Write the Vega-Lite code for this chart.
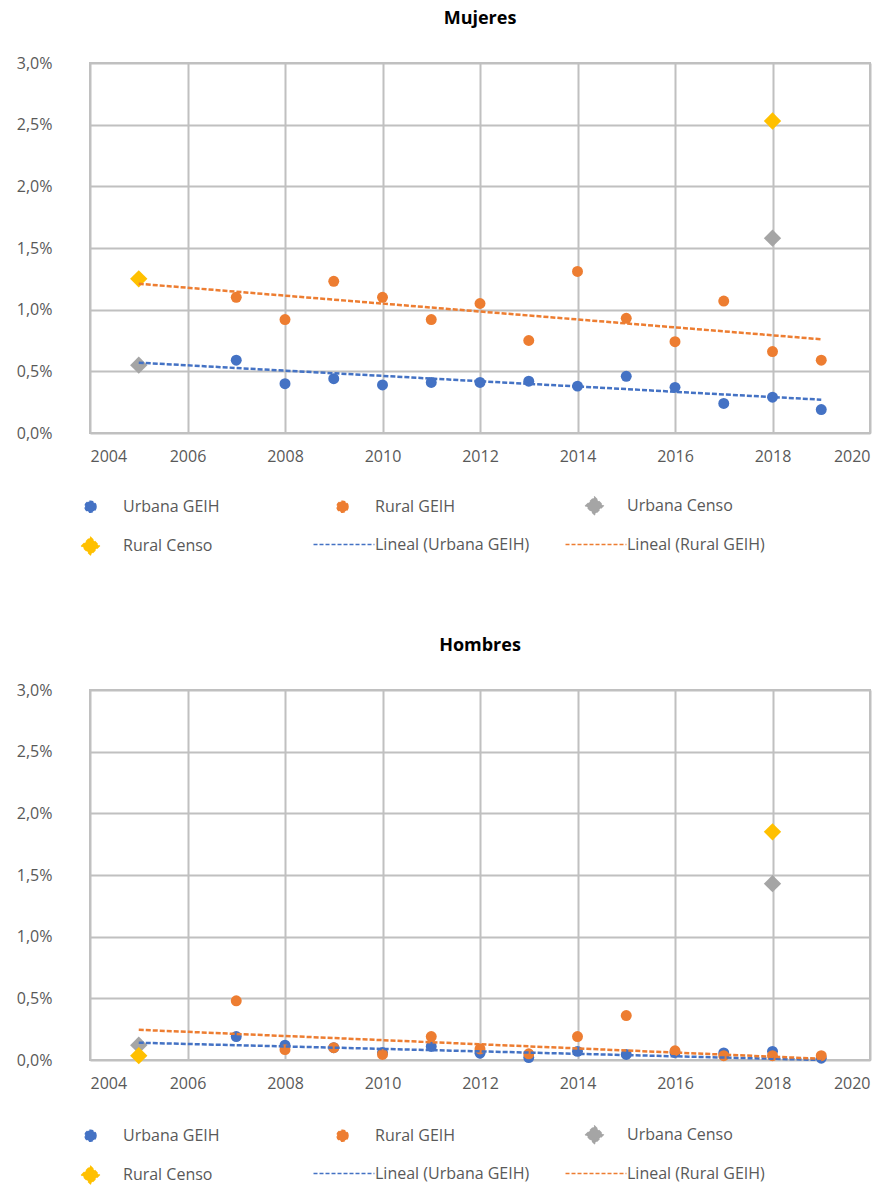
{
  "$schema": "https://vega.github.io/schema/vega-lite/v6.json",
  "padding": {"left": 15, "top": 9, "right": 20, "bottom": 4},
  "background": "white",
  "config": {
    "font": "Open Sans",
    "view": {"stroke": "#C0C0C0", "strokeWidth": 2},
    "axis": {
      "grid": true,
      "gridColor": "#C0C0C0",
      "gridWidth": 2,
      "ticks": false,
      "domain": false,
      "labelFontSize": 16,
      "labelColor": "#595959",
      "title": null
    },
    "title": {"fontSize": 18, "fontWeight": "bold", "color": "#000000", "anchor": "middle", "offset": 27},
    "legend": {
      "orient": "none",
      "direction": "horizontal",
      "legendX": -9,
      "columns": 3,
      "gridAlign": "all",
      "columnPadding": 32,
      "rowPadding": 15.5,
      "labelFontSize": 16,
      "labelColor": "#595959",
      "labelOffset": 23,
      "symbolSize": 140,
      "symbolStrokeWidth": 1.6,
      "symbolDash": [4, 2],
      "title": null
    }
  },
  "datasets": {
    "mujeres": [
      {"series": "Urbana GEIH", "year": 2007, "value": 0.59},
      {"series": "Urbana GEIH", "year": 2008, "value": 0.40},
      {"series": "Urbana GEIH", "year": 2009, "value": 0.44},
      {"series": "Urbana GEIH", "year": 2010, "value": 0.39},
      {"series": "Urbana GEIH", "year": 2011, "value": 0.41},
      {"series": "Urbana GEIH", "year": 2012, "value": 0.41},
      {"series": "Urbana GEIH", "year": 2013, "value": 0.42},
      {"series": "Urbana GEIH", "year": 2014, "value": 0.38},
      {"series": "Urbana GEIH", "year": 2015, "value": 0.46},
      {"series": "Urbana GEIH", "year": 2016, "value": 0.37},
      {"series": "Urbana GEIH", "year": 2017, "value": 0.24},
      {"series": "Urbana GEIH", "year": 2018, "value": 0.29},
      {"series": "Urbana GEIH", "year": 2019, "value": 0.19},
      {"series": "Rural GEIH", "year": 2007, "value": 1.10},
      {"series": "Rural GEIH", "year": 2008, "value": 0.92},
      {"series": "Rural GEIH", "year": 2009, "value": 1.23},
      {"series": "Rural GEIH", "year": 2010, "value": 1.10},
      {"series": "Rural GEIH", "year": 2011, "value": 0.92},
      {"series": "Rural GEIH", "year": 2012, "value": 1.05},
      {"series": "Rural GEIH", "year": 2013, "value": 0.75},
      {"series": "Rural GEIH", "year": 2014, "value": 1.31},
      {"series": "Rural GEIH", "year": 2015, "value": 0.93},
      {"series": "Rural GEIH", "year": 2016, "value": 0.74},
      {"series": "Rural GEIH", "year": 2017, "value": 1.07},
      {"series": "Rural GEIH", "year": 2018, "value": 0.66},
      {"series": "Rural GEIH", "year": 2019, "value": 0.59},
      {"series": "Urbana Censo", "year": 2005, "value": 0.55},
      {"series": "Urbana Censo", "year": 2018, "value": 1.58},
      {"series": "Rural Censo", "year": 2005, "value": 1.25},
      {"series": "Rural Censo", "year": 2018, "value": 2.53}
    ],
    "mujeres_lineal": [
      {"series": "Lineal (Urbana GEIH)", "year": 2005, "value": 0.57},
      {"series": "Lineal (Urbana GEIH)", "year": 2019, "value": 0.27},
      {"series": "Lineal (Rural GEIH)", "year": 2005, "value": 1.21},
      {"series": "Lineal (Rural GEIH)", "year": 2019, "value": 0.76}
    ],
    "hombres": [
      {"series": "Urbana GEIH", "year": 2007, "value": 0.19},
      {"series": "Urbana GEIH", "year": 2008, "value": 0.12},
      {"series": "Urbana GEIH", "year": 2009, "value": 0.10},
      {"series": "Urbana GEIH", "year": 2010, "value": 0.06},
      {"series": "Urbana GEIH", "year": 2011, "value": 0.11},
      {"series": "Urbana GEIH", "year": 2012, "value": 0.055},
      {"series": "Urbana GEIH", "year": 2013, "value": 0.02},
      {"series": "Urbana GEIH", "year": 2014, "value": 0.07},
      {"series": "Urbana GEIH", "year": 2015, "value": 0.045},
      {"series": "Urbana GEIH", "year": 2016, "value": 0.06},
      {"series": "Urbana GEIH", "year": 2017, "value": 0.057},
      {"series": "Urbana GEIH", "year": 2018, "value": 0.07},
      {"series": "Urbana GEIH", "year": 2019, "value": 0.015},
      {"series": "Rural GEIH", "year": 2007, "value": 0.48},
      {"series": "Rural GEIH", "year": 2008, "value": 0.084},
      {"series": "Rural GEIH", "year": 2009, "value": 0.10},
      {"series": "Rural GEIH", "year": 2010, "value": 0.045},
      {"series": "Rural GEIH", "year": 2011, "value": 0.19},
      {"series": "Rural GEIH", "year": 2012, "value": 0.09},
      {"series": "Rural GEIH", "year": 2013, "value": 0.05},
      {"series": "Rural GEIH", "year": 2014, "value": 0.19},
      {"series": "Rural GEIH", "year": 2015, "value": 0.36},
      {"series": "Rural GEIH", "year": 2016, "value": 0.075},
      {"series": "Rural GEIH", "year": 2017, "value": 0.035},
      {"series": "Rural GEIH", "year": 2018, "value": 0.035},
      {"series": "Rural GEIH", "year": 2019, "value": 0.035},
      {"series": "Urbana Censo", "year": 2005, "value": 0.12},
      {"series": "Urbana Censo", "year": 2018, "value": 1.43},
      {"series": "Rural Censo", "year": 2005, "value": 0.035},
      {"series": "Rural Censo", "year": 2018, "value": 1.85}
    ],
    "hombres_lineal": [
      {"series": "Lineal (Urbana GEIH)", "year": 2005, "value": 0.14},
      {"series": "Lineal (Urbana GEIH)", "year": 2019, "value": 0.0},
      {"series": "Lineal (Rural GEIH)", "year": 2005, "value": 0.245},
      {"series": "Lineal (Rural GEIH)", "year": 2019, "value": 0.01}
    ]
  },
  "resolve": {
    "scale": {"color": "independent", "shape": "independent", "size": "independent"},
    "legend": {"color": "independent", "shape": "independent", "size": "independent"}
  },
  "spacing": 77,
  "vconcat": [
    {
      "title": {"text": "Mujeres"},
      "width": 780,
      "height": 370,
      "layer": [
        {
          "data": {"name": "mujeres"},
          "mark": {"type": "point", "filled": true, "opacity": 1},
          "encoding": {
            "x": {"field": "year", "type": "quantitative", "scale": {"domain": [2004, 2020], "nice": false, "zero": false},
                  "axis": {"values": [2004, 2006, 2008, 2010, 2012, 2014, 2016, 2018, 2020], "format": "d", "labelPadding": 15}},
            "y": {"field": "value", "type": "quantitative", "scale": {"domain": [0, 3], "nice": false},
                  "axis": {"values": [0, 0.5, 1, 1.5, 2, 2.5, 3], "labelExpr": "replace(format(datum.value, '.1f'), '.', ',') + '%'", "labelPadding": 38}},
            "color": {"field": "series", "type": "nominal",
                      "scale": {"domain": ["Urbana GEIH", "Rural GEIH", "Urbana Censo", "Rural Censo", "Lineal (Urbana GEIH)", "Lineal (Rural GEIH)"],
                                "range": ["#4472C4", "#ED7D31", "#A5A5A5", "#FFC000", "#4472C4", "#ED7D31"]},
                      "legend": {
                        "legendY": 433,
                        "encode": {"symbols": {
                          "stroke": {"condition": [{"test": "datum.value === 'Lineal (Urbana GEIH)'", "value": "#4472C4"}, {"test": "datum.value === 'Lineal (Rural GEIH)'", "value": "#ED7D31"}], "value": "transparent"}
                        }}
                      }},
            "shape": {"field": "series", "type": "nominal",
                      "scale": {"domain": ["Urbana GEIH", "Rural GEIH", "Urbana Censo", "Rural Censo", "Lineal (Urbana GEIH)", "Lineal (Rural GEIH)"],
                                "range": ["circle", "circle", "diamond", "diamond", "M-4.9,0H5.4", "M-4.9,0H5.4"]},
                      "legend": {
                        "legendY": 433,
                        "encode": {"symbols": {
                          "stroke": {"condition": [{"test": "datum.value === 'Lineal (Urbana GEIH)'", "value": "#4472C4"}, {"test": "datum.value === 'Lineal (Rural GEIH)'", "value": "#ED7D31"}], "value": "transparent"}
                        }}
                      }},
            "size": {"field": "series", "type": "nominal",
                     "scale": {"type": "ordinal", "domain": ["Urbana GEIH", "Rural GEIH", "Urbana Censo", "Rural Censo", "Lineal (Urbana GEIH)", "Lineal (Rural GEIH)"],
                               "range": [120, 120, 300, 300, 140, 140]},
                     "legend": {"legendY": 433}}
          }
        },
        {
          "data": {"name": "mujeres_lineal"},
          "mark": {"type": "line", "strokeDash": [5, 2], "strokeWidth": 2.5},
          "encoding": {
            "x": {"field": "year", "type": "quantitative"},
            "y": {"field": "value", "type": "quantitative"},
            "color": {"field": "series", "type": "nominal", "legend": null}
          }
        }
      ]
    },
    {
      "title": {"text": "Hombres"},
      "width": 780,
      "height": 370,
      "layer": [
        {
          "data": {"name": "hombres"},
          "mark": {"type": "point", "filled": true, "opacity": 1},
          "encoding": {
            "x": {"field": "year", "type": "quantitative", "scale": {"domain": [2004, 2020], "nice": false, "zero": false},
                  "axis": {"values": [2004, 2006, 2008, 2010, 2012, 2014, 2016, 2018, 2020], "format": "d", "labelPadding": 15}},
            "y": {"field": "value", "type": "quantitative", "scale": {"domain": [0, 3], "nice": false},
                  "axis": {"values": [0, 0.5, 1, 1.5, 2, 2.5, 3], "labelExpr": "replace(format(datum.value, '.1f'), '.', ',') + '%'", "labelPadding": 38}},
            "color": {"field": "series", "type": "nominal",
                      "scale": {"domain": ["Urbana GEIH", "Rural GEIH", "Urbana Censo", "Rural Censo", "Lineal (Urbana GEIH)", "Lineal (Rural GEIH)"],
                                "range": ["#4472C4", "#ED7D31", "#A5A5A5", "#FFC000", "#4472C4", "#ED7D31"]},
                      "legend": {
                        "legendY": 435,
                        "encode": {"symbols": {
                          "stroke": {"condition": [{"test": "datum.value === 'Lineal (Urbana GEIH)'", "value": "#4472C4"}, {"test": "datum.value === 'Lineal (Rural GEIH)'", "value": "#ED7D31"}], "value": "transparent"}
                        }}
                      }},
            "shape": {"field": "series", "type": "nominal",
                      "scale": {"domain": ["Urbana GEIH", "Rural GEIH", "Urbana Censo", "Rural Censo", "Lineal (Urbana GEIH)", "Lineal (Rural GEIH)"],
                                "range": ["circle", "circle", "diamond", "diamond", "M-4.9,0H5.4", "M-4.9,0H5.4"]},
                      "legend": {
                        "legendY": 435,
                        "encode": {"symbols": {
                          "stroke": {"condition": [{"test": "datum.value === 'Lineal (Urbana GEIH)'", "value": "#4472C4"}, {"test": "datum.value === 'Lineal (Rural GEIH)'", "value": "#ED7D31"}], "value": "transparent"}
                        }}
                      }},
            "size": {"field": "series", "type": "nominal",
                     "scale": {"type": "ordinal", "domain": ["Urbana GEIH", "Rural GEIH", "Urbana Censo", "Rural Censo", "Lineal (Urbana GEIH)", "Lineal (Rural GEIH)"],
                               "range": [120, 120, 300, 300, 140, 140]},
                     "legend": {"legendY": 435}}
          }
        },
        {
          "data": {"name": "hombres_lineal"},
          "mark": {"type": "line", "strokeDash": [5, 2], "strokeWidth": 2.5},
          "encoding": {
            "x": {"field": "year", "type": "quantitative"},
            "y": {"field": "value", "type": "quantitative"},
            "color": {"field": "series", "type": "nominal", "legend": null}
          }
        }
      ]
    }
  ]
}
